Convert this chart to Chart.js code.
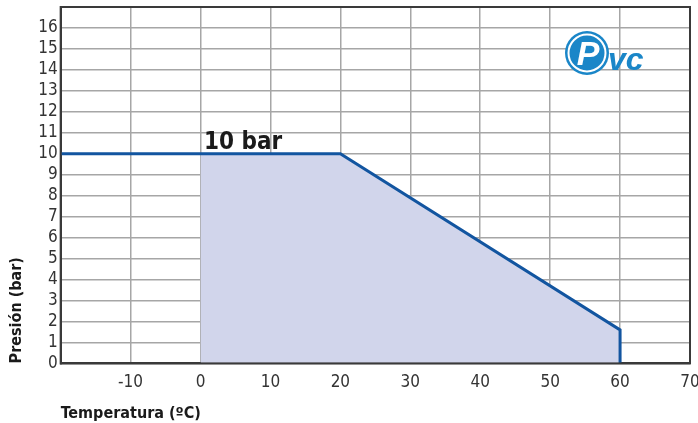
<!DOCTYPE html>
<html><head><meta charset="utf-8">
<script src="https://cdn.jsdelivr.net/npm/chart.js@4/dist/chart.umd.min.js"></script>
<style>html,body{margin:0;padding:0;background:#fff}#wrap{width:698px;height:423px}</style>
</head><body><div id="wrap"><canvas id="c"></canvas></div>
<script>
const lineX = [-20, 20, 60, 60];
const lineY = [10, 10, 1.6, 0];
const fillX = [0, 20, 60, 60];
const fillY = [10, 10, 1.6, 0];
const xTicks = [-10, 0, 10, 20, 30, 40, 50, 60, 70];
const yTicks = [0,1,2,3,4,5,6,7,8,9,10,11,12,13,14,15,16];
const annotationText = "10 bar";
const annotationPos = [0.5, 10.25];
const FONT = "'Liberation Sans Narrow','DejaVu Sans Condensed',sans-serif";

const overlay = {
  id: 'overlay',
  afterDatasetsDraw(chart) {
    const {ctx, scales: {x, y}} = chart;
    ctx.save();
    ctx.fillStyle = '#1a1a1a';
    ctx.font = "bold 24px " + FONT;
    ctx.textBaseline = 'alphabetic';
    ctx.fillText(annotationText, x.getPixelForValue(annotationPos[0]), y.getPixelForValue(annotationPos[1]));
    // logo
    const cx = 587, cy = 53;
    ctx.fillStyle = '#1a86c8';
    ctx.beginPath(); ctx.arc(cx, cy, 22, 0, Math.PI*2); ctx.fill();
    ctx.strokeStyle = '#fff'; ctx.lineWidth = 2;
    ctx.beginPath(); ctx.arc(cx, cy, 18.5, 0, Math.PI*2); ctx.stroke();
    ctx.fillStyle = '#fff';
    ctx.font = "italic bold 34px 'Liberation Sans', sans-serif";
    ctx.textAlign = 'center'; ctx.textBaseline = 'alphabetic';
    ctx.fillText('P', cx + 1, cy + 12);
    ctx.fillStyle = '#1a86c8';
    ctx.font = "italic bold 32px 'Liberation Sans', sans-serif";
    ctx.textAlign = 'left';
    ctx.fillText('vc', cx + 21, cy + 17);
    ctx.restore();
  }
};

new Chart(document.getElementById('c'), {
  type: 'scatter',
  data: {
    datasets: [
      { data: fillX.map((v,i)=>({x:v,y:fillY[i]})), showLine: true, borderWidth: 0, pointRadius: 0,
        backgroundColor: '#d1d5eb', fill: 'origin', order: 2 },
      { data: lineX.map((v,i)=>({x:v,y:lineY[i]})), showLine: true, borderWidth: 3, pointRadius: 0,
        borderColor: '#1255a0', fill: false, order: 1 }
    ]
  },
  options: {
    responsive: true, maintainAspectRatio: false, animation: false,
    layout: { padding: { top: 7, right: 8, left: 7, bottom: 0 } },
    plugins: { legend: { display: false }, tooltip: { enabled: false } },
    scales: {
      x: {
        type: 'linear', min: -20, max: 70,
        afterBuildTicks(s) { s.ticks = xTicks.map(v => ({ value: v })); },
        afterFit(s) { s.paddingRight = 0; s.paddingLeft = 0; },
        grid: { color: '#a6a6a6', lineWidth: 1.5, drawTicks: false },
        border: { color: '#3a3a3a', width: 2 },
        ticks: { color: '#333', font: { family: FONT, size: 17 }, padding: 9, maxRotation: 0, autoSkip: false },
        title: { display: true, text: 'Temperatura (ºC)', align: 'start', color: '#1a1a1a',
          font: { family: FONT, size: 16, weight: 'bold' }, padding: { top: 2, bottom: 0 } }
      },
      y: {
        type: 'linear', min: 0, max: 17,
        afterBuildTicks(s) { s.ticks = yTicks.map(v => ({ value: v })); },
        afterFit(s) { s.paddingTop = 0; s.paddingBottom = 0; },
        grid: { color: '#a6a6a6', lineWidth: 1.5, drawTicks: false },
        border: { color: '#3a3a3a', width: 2 },
        ticks: { color: '#333', font: { family: FONT, size: 17 }, padding: 3, autoSkip: false },
        title: { display: true, text: 'Presión (bar)', align: 'start', color: '#1a1a1a',
          font: { family: FONT, size: 16, weight: 'bold' }, padding: { top: 0, bottom: 9 } }
      }
    }
  },
  plugins: [overlay, {
    id: 'frame',
    afterDraw(chart) {
      const {ctx, chartArea: a} = chart;
      ctx.save(); ctx.strokeStyle = '#3a3a3a'; ctx.lineWidth = 2;
      ctx.strokeRect(a.left, a.top, a.right - a.left, a.bottom - a.top);
      ctx.restore();
    }
  }]
});
</script></body></html>
